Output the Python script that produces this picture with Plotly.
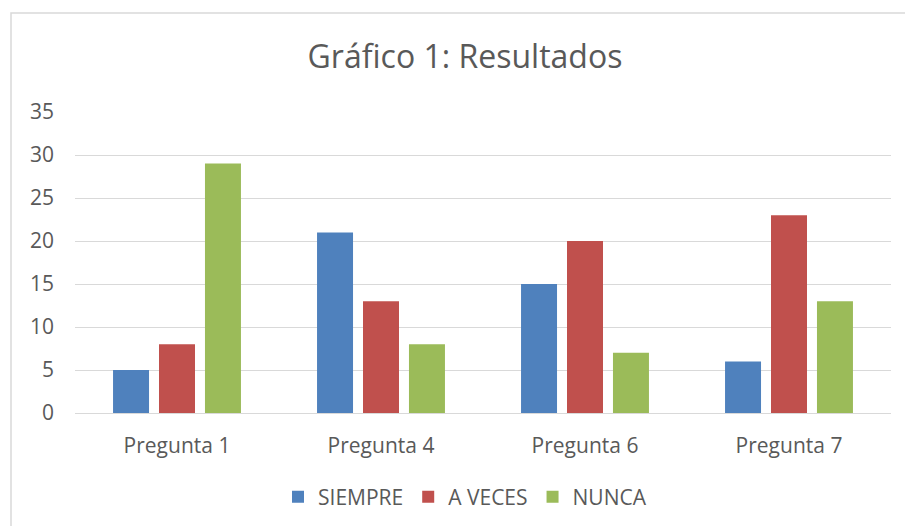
import plotly.graph_objects as go

categories = ["Pregunta 1", "Pregunta 4", "Pregunta 6", "Pregunta 7"]
siempre = [5, 21, 15, 6]
a_veces = [8, 13, 20, 23]
nunca = [29, 8, 7, 13]
series_names = ["SIEMPRE", "A VECES", "NUNCA"]
colors = ["#4F81BD", "#C0504D", "#9BBB59"]
y_ticks = [0, 5, 10, 15, 20, 25, 30, 35]

FONT = "Open Sans"
TXT = "#595959"

fig = go.Figure()
for name, vals, col in zip(series_names, [siempre, a_veces, nunca], colors):
    fig.add_trace(go.Bar(x=categories, y=vals, name=name, marker=dict(color=col, line=dict(width=0))))

L, R, T, B = 75, 14, 112, 113
W, H = 905, 526
pw = W - L - R
ph = H - T - B

fig.update_layout(
    width=W, height=H,
    margin=dict(l=L, r=R, t=T, b=B, autoexpand=False),
    paper_bgcolor="white", plot_bgcolor="white",
    barmode="group", bargap=0.324, bargroupgap=0.217,
    font=dict(family=FONT, color=TXT, size=21),
    title=dict(text="Gráfico 1: Resultados", x=465 / W, xanchor="center",
               y=1 - 57 / H, yanchor="middle", xref="container", yref="container",
               font=dict(size=32, color=TXT, family=FONT)),
    legend=dict(orientation="h", x=(465 - L) / pw, xanchor="center",
                y=(H - B - 497) / ph, yanchor="middle",
                font=dict(size=21, color=TXT, family=FONT), itemwidth=30,
                traceorder="normal"),
    xaxis=dict(showgrid=False, showline=False, ticks="", ticklabelstandoff=18,
               automargin=False, tickfont=dict(size=21, color=TXT)),
    yaxis=dict(range=[0, 35], tickvals=y_ticks, showgrid=True, gridcolor="#D9D9D9",
               gridwidth=1, zeroline=True, zerolinecolor="#D9D9D9", zerolinewidth=1,
               showline=False, ticks="", ticklabelstandoff=20, automargin=False,
               tickfont=dict(size=21, color=TXT)),
    shapes=[dict(type="rect", xref="paper", yref="paper",
                 x0=(11 - L) / pw, x1=(W + 5 - L) / pw,
                 y0=(H - B - (H + 5)) / ph, y1=(H - B - 13) / ph,
                 line=dict(color="#D9D9D9", width=1.5), fillcolor="rgba(0,0,0,0)",
                 layer="below")],
)

fig.write_html("out.html", config={"displayModeBar": False},
               post_script="document.body.style.margin='0px';document.body.style.overflow='hidden';")
